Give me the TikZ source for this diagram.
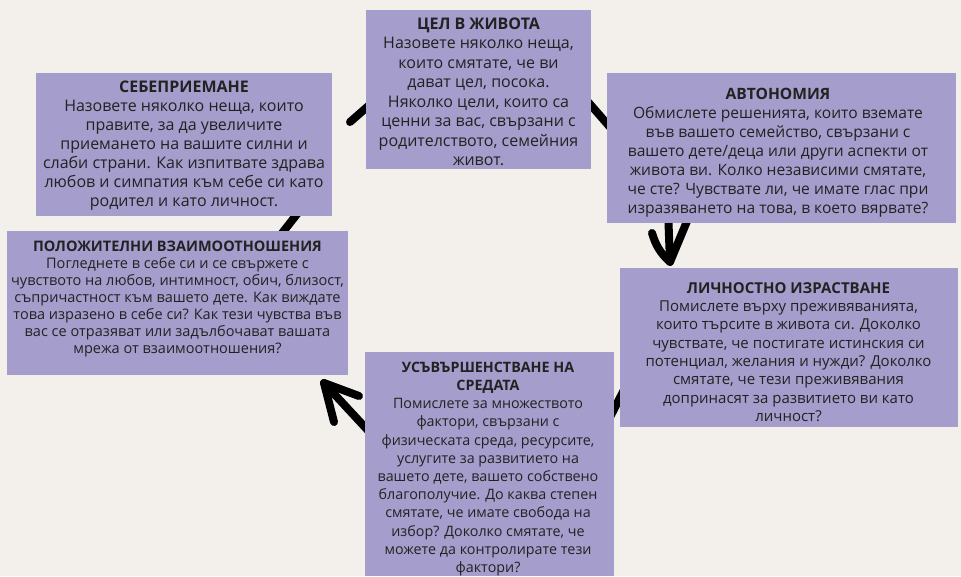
\documentclass[tikz,border=0pt]{standalone}
\usepackage{fontspec}
\setmainfont{Open Sans}
\definecolor{bg}{HTML}{F3F0EB}
\definecolor{lav}{HTML}{A59DCB}
\definecolor{ink}{HTML}{222222}
\newcommand{\fsz}[2]{\fontsize{#1}{#2}\selectfont}
\begin{document}
\begin{tikzpicture}[x=1pt,y=-1pt,
  panel/.style={fill=lav, draw=none, inner sep=0pt, outer sep=0pt, anchor=north west},
  txt/.style={text=ink, align=center, inner sep=0pt},
  stroke/.style={line width=8pt, line cap=round, line join=round, black}]
\fill[bg] (0,0) rectangle (961,576);
\useasboundingbox (0,0) rectangle (961,576);
% hand-drawn cycle strokes (mostly hidden under panels)
\coordinate (a1) at (350,122); \coordinate (a2) at (374,101);
\coordinate (b1) at (582,95);  \coordinate (b2) at (616,134);
\coordinate (c0) at (668,210); \coordinate (ctip) at (670,262);
\coordinate (cl) at (652,233); \coordinate (cr) at (690,214);
\coordinate (d1) at (628,382); \coordinate (d2) at (606,425);
\coordinate (e0) at (375,438); \coordinate (etip) at (324,383);
\coordinate (eu) at (359,396); \coordinate (el) at (334,422);
\coordinate (f1) at (279,237); \coordinate (f2) at (301,209);
\draw[stroke] (a1) -- (a2);
\draw[stroke] (b1) -- (b2);
\draw[stroke] (c0) -- (ctip);
\draw[stroke] (cl) to[bend right=15] (ctip) -- (cr);
\draw[stroke] (d1) -- (d2);
\draw[stroke] (e0) -- (etip);
\draw[stroke] (eu) -- (etip) -- (el);
\draw[stroke] (f1) -- (f2);
% panels
\node[panel, minimum width=225pt, minimum height=159pt] (p1) at (366,10) {};
\node[panel, minimum width=296pt, minimum height=143pt] (p2) at (36,73) {};
\node[panel, minimum width=349pt, minimum height=150pt] (p3) at (607,73) {};
\node[panel, minimum width=341pt, minimum height=144pt] (p4) at (7,231) {};
\node[panel, minimum width=338pt, minimum height=159pt] (p5) at (620,268) {};
\node[panel, minimum width=249pt, minimum height=224pt] (p6) at (365,352) {};
% texts
\node[txt, font=\fsz{16}{19.5}] (t1) at (478.5,92) {\textbf{ЦЕЛ В ЖИВОТА}\\
Назовете няколко неща,\\ които смятате, че ви\\ дават цел, посока.\\
Няколко цели, които са\\ ценни за вас, свързани с\\ родителството, семейния\\ живот.};
\node[txt, font=\fsz{16}{19}] (t2) at (184,146) {\textbf{СЕБЕПРИЕМАНЕ}\\
Назовете няколко неща, които\\ правите, за да увеличите\\ приемането на вашите силни и\\
слаби страни. Как изпитвате здрава\\ любов и симпатия към себе си като\\ родител и като личност.};
\node[txt, font=\fsz{15.6}{19}] (t3) at (778,153) {\textbf{АВТОНОМИЯ}\\
Обмислете решенията, които вземате\\ във вашето семейство, свързани с\\
вашето дете/деца или други аспекти от\\ живота ви. Колко независими смятате,\\
че сте? Чувствате ли, че имате глас при\\ изразяването на това, в което вярвате?};
\node[txt, font=\fsz{14.5}{17}] (t4) at (177.5,299) {\textbf{ПОЛОЖИТЕЛНИ ВЗАИМООТНОШЕНИЯ}\\
Погледнете в себе си и се свържете с\\ чувството на любов, интимност, обич, близост,\\
съпричастност към вашето дете. Как виждате\\ това изразено в себе си? Как тези чувства във\\
вас се отразяват или задълбочават вашата\\ мрежа от взаимоотношения?};
\node[txt, font=\fsz{15}{18.3}] (t5) at (788.5,352) {\textbf{ЛИЧНОСТНО ИЗРАСТВАНЕ}\\
Помислете върху преживяванията,\\ които търсите в живота си. Доколко\\
чувствате, че постигате истинския си\\ потенциал, желания и нужди? Доколко\\
смятате, че тези преживявания\\ допринасят за развитието ви като\\ личност?};
\node[txt, font=\fsz{14.3}{18.2}] (t6) at (488,469) {\textbf{УСЪВЪРШЕНСТВАНЕ НА}\\ \textbf{СРЕДАТА}\\
Помислете за множеството\\ фактори, свързани с\\ физическата среда, ресурсите,\\
услугите за развитието на\\ вашето дете, вашето собствено\\ благополучие. До каква степен\\
смятате, че имате свобода на\\ избор? Доколко смятате, че\\ можете да контролирате тези\\ фактори?};
\end{tikzpicture}
\end{document}
